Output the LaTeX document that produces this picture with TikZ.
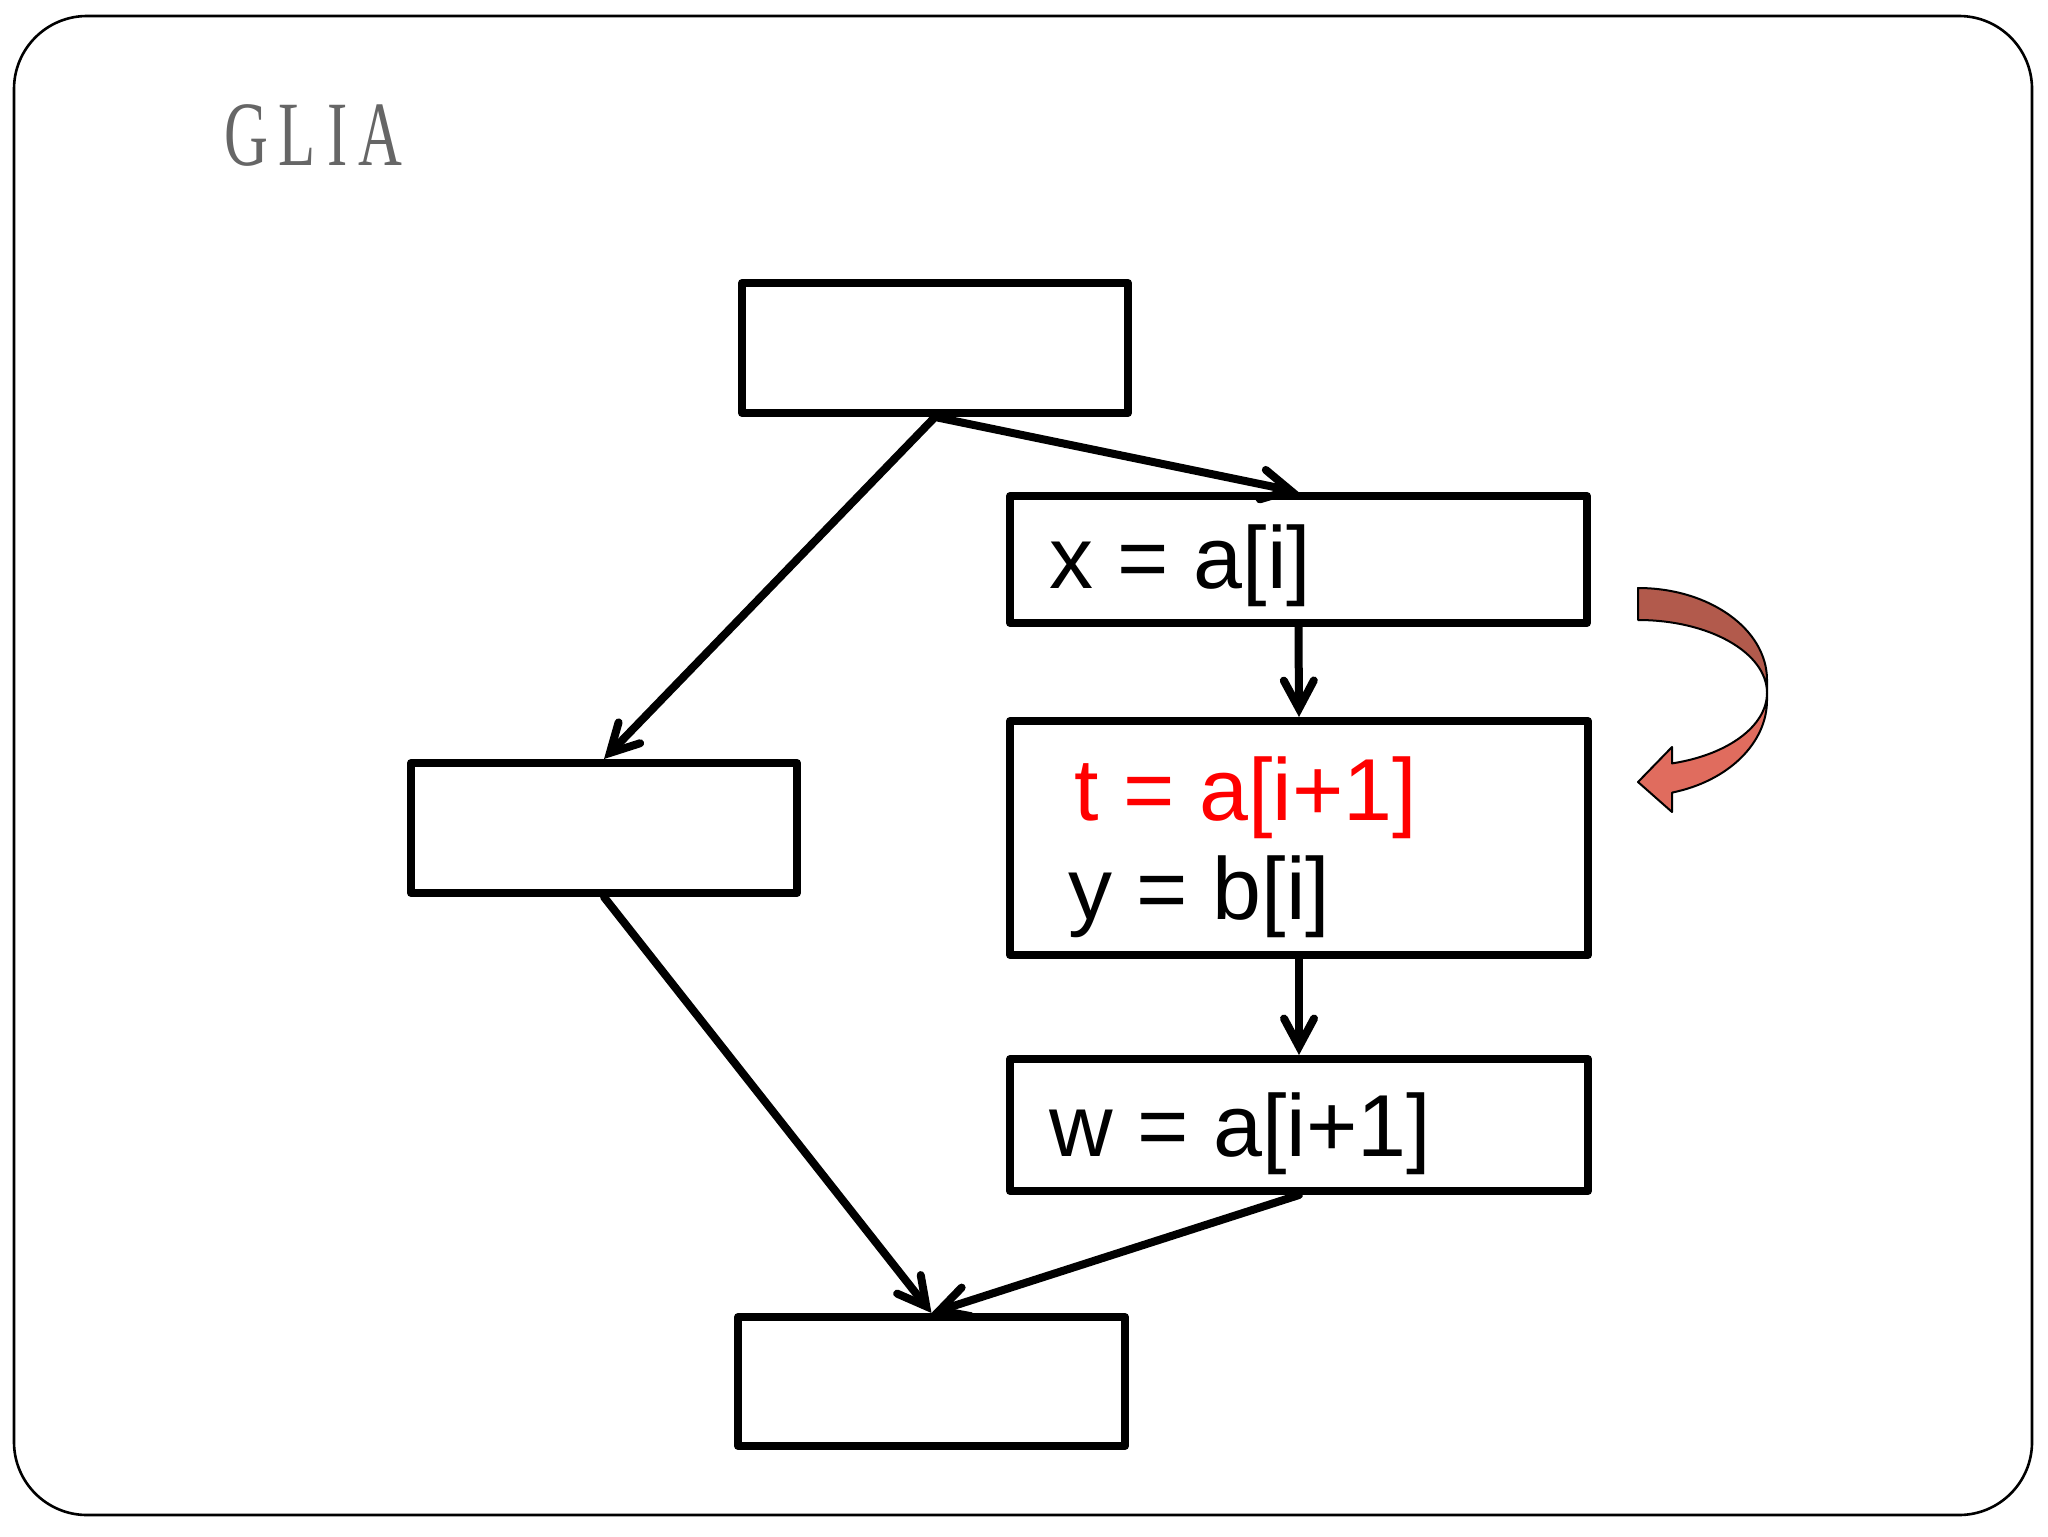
\documentclass[tikz,border=0pt]{standalone}
\usepackage{fontspec}
\setmainfont{Liberation Sans}
\newfontfamily\titlefont{Liberation Serif}
\usetikzlibrary{arrows.meta}
\definecolor{titlegray}{RGB}{102,102,102}
\definecolor{arrdark}{RGB}{178,90,76}
\definecolor{arrlight}{RGB}{224,108,94}
\definecolor{codered}{RGB}{255,0,0}
\begin{document}
\begin{tikzpicture}[x=0.5pt,y=-0.5pt,
  blk/.style={draw=black,line width=4pt,line join=round,rectangle,inner sep=0pt},
  code/.style={anchor=base west,inner sep=0pt,font=\fontsize{44}{53}\selectfont},
  conn/.style={draw=black,line width=4pt,line cap=round,line join=round,
    -{Straight Barb[length=14pt,width=15pt,line cap=round]}}]
\useasboundingbox (0,0) rectangle (2048,1536);
\draw[line width=1.3pt,rounded corners=36.5pt] (14,16) rectangle (2032,1515);
\node[anchor=base west,inner sep=0pt,text=titlegray,font=\titlefont\fontsize{46}{55}\selectfont] (title) at (224,165) {\scalebox{0.66}[1]{G\kern8pt L\kern9pt I\kern8pt A}};
% boxes
\node[blk,minimum width=193pt,minimum height=65pt] (b1) at (935,348) {};
\node[blk,minimum width=288.5pt,minimum height=63.5pt] (bx) at (1298.5,559.5) {};
\node[blk,minimum width=289pt,minimum height=117pt] (bt) at (1299,838) {};
\node[blk,minimum width=289pt,minimum height=66pt] (bw) at (1299,1125) {};
\node[blk,minimum width=193pt,minimum height=65pt] (bl) at (604,828) {};
\node[blk,minimum width=193.5pt,minimum height=64.5pt] (bb) at (931.5,1381.5) {};
% texts
\node[code] (tx) at (1049,588) {x = a[i]};
\node[code,text=codered] (tt) at (1074,820) {t = a[i+1]};
\node[code] (ty) at (1068,919) {y = b[i]};
\node[code] (tw) at (1049,1156) {w = a[i+1]};
% connectors
\draw[conn] (b1.south) -- (bx.north);
\draw[conn] (b1.south) -- (bl.north);
\draw[conn] (bx.south) -- (bt.north);
\draw[conn] (bt.south) -- (bw.north);
\draw[conn] (bl.south) -- (bb.north);
\draw[conn] (bw.south) -- (bb.north);
% curved arrow
\draw[fill=arrdark,line width=1pt,line join=round]
  (1638,588) arc[start angle=-90,end angle=0,x radius=129,y radius=92]
  -- (1767,693) arc[start angle=0,end angle=-90,x radius=129,y radius=73]
  -- cycle;
\draw[fill=arrlight,line width=1pt,line join=round]
  (1767,693) -- (1767,700) arc[start angle=0,end angle=74.7,x radius=129,y radius=96]
  -- (1672,812) -- (1638,782) -- (1672,747) -- (1672,763.4)
  arc[start angle=74.7,end angle=0,x radius=129,y radius=73]
  -- cycle;
\end{tikzpicture}
\end{document}
